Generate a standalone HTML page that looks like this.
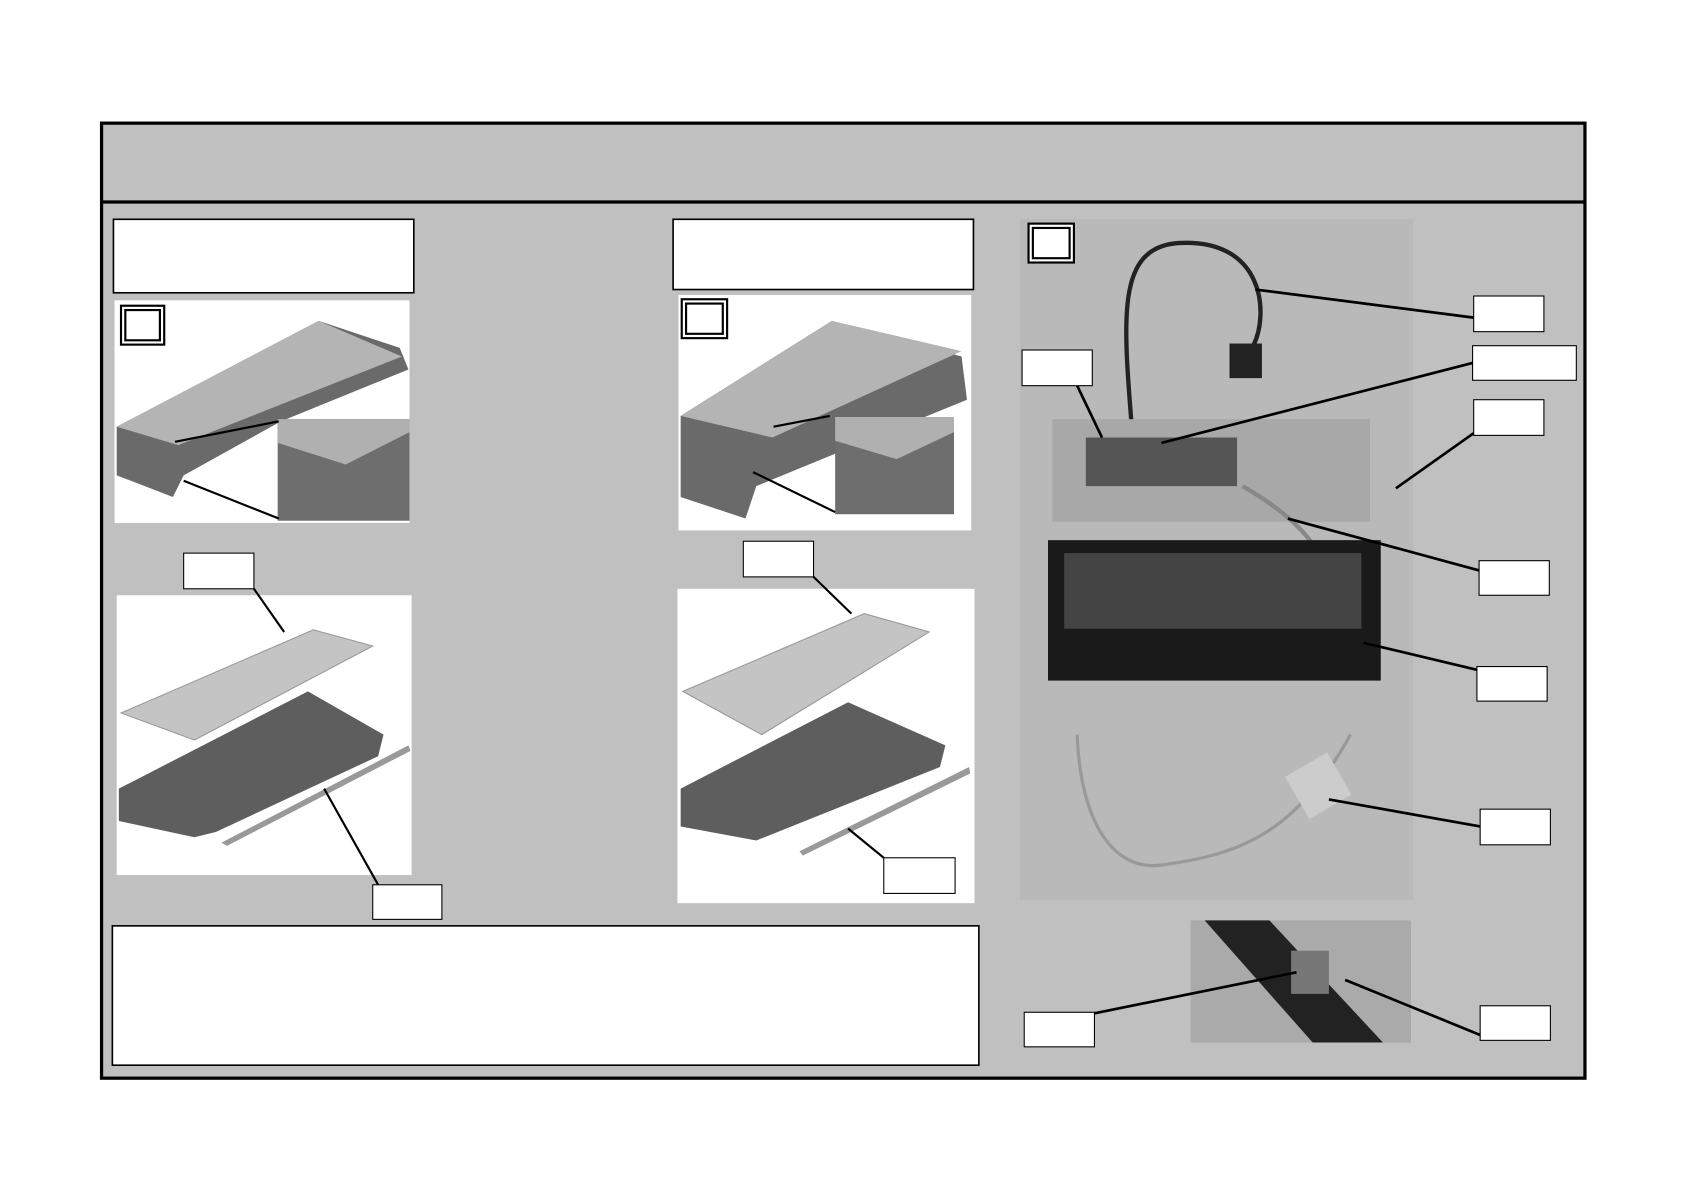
<!DOCTYPE html>
<html><head><meta charset="utf-8"><style>html,body{margin:0;padding:0;background:#fff}svg{display:block}</style></head>
<body>
<svg width="1693" height="1197" viewBox="0 0 1567 1108" preserveAspectRatio="none" xmlns="http://www.w3.org/2000/svg">
<rect x="0" y="0" width="1567" height="1108" fill="#fff"/>
<rect x="94" y="114" width="1373" height="884" fill="#c0c0c0" stroke="#000" stroke-width="3"/>
<line x1="94" y1="187" x2="1467" y2="187" stroke="#000" stroke-width="3"/>
<g fill="#fff" stroke="#000" stroke-width="1.5">
<rect x="105" y="203" width="278" height="68"/>
<rect x="623" y="203" width="278" height="65"/>
<rect x="104" y="857" width="802" height="129"/>
</g>
<!-- Image A -->
<rect x="106" y="278" width="273" height="206" fill="#fff"/>
<polygon points="108,395 295,297 370,322 378,342 260,390 170,440 160,460 108,440" fill="#6a6a6a"/>
<polygon points="108,395 295,297 372,330 165,412" fill="#b4b4b4"/>
<rect x="257" y="388" width="122" height="94" fill="#6e6e6e"/>
<polygon points="257,388 379,388 379,400 320,430 257,410" fill="#b0b0b0"/>
<!-- Image B -->
<rect x="628" y="273" width="271" height="218" fill="#fff"/>
<polygon points="630,385 770,297 890,330 895,370 773,420 700,450 690,480 630,460" fill="#6a6a6a"/>
<polygon points="630,385 770,297 890,325 715,405" fill="#b4b4b4"/>
<rect x="773" y="386" width="110" height="90" fill="#6e6e6e"/>
<polygon points="773,386 883,386 883,400 830,425 773,408" fill="#b0b0b0"/>
<!-- Image C -->
<rect x="108" y="551" width="273" height="259" fill="#fff"/>
<polygon points="112,660 290,583 345,598 180,685" fill="#c4c4c4" stroke="#999"/>
<polygon points="110,730 285,640 355,680 350,700 200,770 180,775 110,760" fill="#5e5e5e"/>
<polygon points="205,780 378,690 380,695 210,783" fill="#999"/>
<!-- Image D -->
<rect x="627" y="545" width="275" height="291" fill="#fff"/>
<polygon points="632,640 800,568 860,585 705,680" fill="#c4c4c4" stroke="#999"/>
<polygon points="630,730 785,650 875,690 870,710 700,778 630,765" fill="#5e5e5e"/>
<polygon points="740,788 897,710 898,716 743,792" fill="#999"/>
<!-- Big photo -->
<rect x="944" y="203" width="364" height="630" fill="#b9b9b9"/>
<path d="M1050,425 C1040,300 1030,230 1090,225 C1170,220 1175,290 1160,320 L1140,325" fill="none" stroke="#222" stroke-width="4"/>
<rect x="1138" y="318" width="30" height="32" fill="#222"/>
<rect x="974" y="388" width="294" height="95" fill="#a8a8a8"/>
<rect x="1005" y="405" width="140" height="45" fill="#555"/>
<path d="M1150,450 C1220,490 1240,530 1230,580" fill="none" stroke="#888" stroke-width="4"/>
<rect x="970" y="500" width="308" height="130" fill="#1a1a1a"/>
<rect x="985" y="512" width="275" height="70" fill="#444"/>
<path d="M997,680 C1000,760 1030,810 1080,800 C1150,790 1200,770 1250,680" fill="none" stroke="#999" stroke-width="3"/>
<rect x="1198" y="705" width="45" height="45" fill="#ccc" transform="rotate(-30 1220 728)"/>
<!-- small photo -->
<rect x="1102" y="852" width="204" height="113" fill="#aaa"/>
<polygon points="1115,852 1175,852 1280,965 1215,965" fill="#222"/>
<rect x="1195" y="880" width="35" height="40" fill="#777"/>
<!-- double boxes -->
<g fill="#fff" stroke="#000">
<rect x="112" y="283" width="40" height="36" stroke-width="2"/><rect x="116" y="287" width="32" height="28" stroke-width="2"/>
<rect x="631" y="277" width="42" height="36" stroke-width="2"/><rect x="635" y="281" width="34" height="28" stroke-width="2"/>
<rect x="952" y="207" width="42" height="36" stroke-width="2"/><rect x="956" y="211" width="34" height="28" stroke-width="2"/>
</g>
<!-- leader lines -->
<g stroke="#000" stroke-width="2" fill="none">
<line x1="162" y1="409" x2="258" y2="390"/>
<line x1="170" y1="445" x2="258" y2="480"/>
<line x1="716" y1="395" x2="768" y2="385"/>
<line x1="697" y1="437" x2="773" y2="474"/>
<line x1="235" y1="545" x2="263" y2="585"/>
<line x1="300" y1="730" x2="350" y2="819"/>
<line x1="753" y1="534" x2="788" y2="568"/>
<line x1="785" y1="767" x2="818" y2="794"/>
<line x1="1162" y1="268" x2="1364" y2="294" stroke-width="2.5"/>
<line x1="997" y1="357" x2="1020" y2="405" stroke-width="2.5"/>
<line x1="1363" y1="336" x2="1075" y2="410" stroke-width="2.5"/>
<line x1="1364" y1="401" x2="1292" y2="452" stroke-width="2.5"/>
<line x1="1192" y1="480" x2="1369" y2="528" stroke-width="2.5"/>
<line x1="1262" y1="595" x2="1367" y2="620" stroke-width="2.5"/>
<line x1="1230" y1="740" x2="1370" y2="765" stroke-width="2.5"/>
<line x1="1013" y1="938" x2="1200" y2="900" stroke-width="2.5"/>
<line x1="1245" y1="907" x2="1370" y2="958" stroke-width="2.5"/>
</g>
<!-- label boxes -->
<g fill="#fff" stroke="#000" stroke-width="1">
<rect x="170" y="512" width="65" height="33"/>
<rect x="345" y="819" width="64" height="32"/>
<rect x="688" y="501" width="65" height="33"/>
<rect x="818" y="794" width="66" height="33"/>
<rect x="946" y="324" width="65" height="33"/>
<rect x="1364" y="274" width="65" height="33"/>
<rect x="1363" y="320" width="96" height="32"/>
<rect x="1364" y="370" width="65" height="33"/>
<rect x="1369" y="519" width="65" height="32"/>
<rect x="1367" y="617" width="65" height="32"/>
<rect x="1370" y="749" width="65" height="33"/>
<rect x="948" y="937" width="65" height="32"/>
<rect x="1370" y="931" width="65" height="32"/>
</g>
</svg>
</body></html>
